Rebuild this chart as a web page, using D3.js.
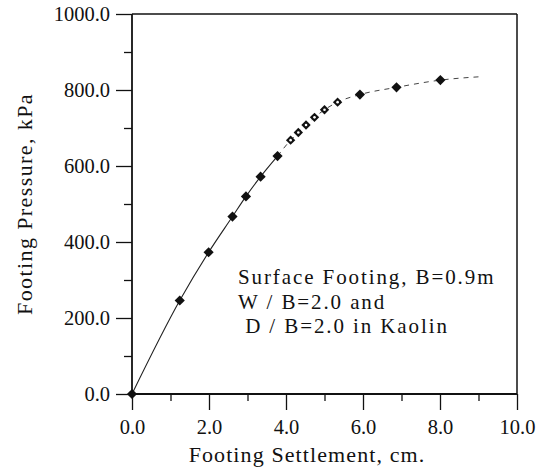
<!DOCTYPE html>
<html><head><meta charset="utf-8">
<script src="https://cdn.jsdelivr.net/npm/d3@7"></script>
<style>
body{margin:0;background:#fff}
#c text{font-family:"Liberation Serif","Times New Roman",serif}
</style></head>
<body><svg id="c" width="544" height="471" style="font-family:'Liberation Serif','Times New Roman',serif"></svg>
<script>
// ---- data ----
const solidSettlement = [0.0, 1.24, 1.99, 2.61, 2.96, 3.34, 3.78, 5.92, 6.87, 8.01];
const solidPressure   = [0, 246, 373, 467, 520, 572, 626, 788, 807, 826];
const openSettlement  = [4.12, 4.32, 4.52, 4.74, 5.00, 5.34];
const openPressure    = [668, 688, 708, 728, 748, 768];
const tailSettlement  = [9.05];
const tailPressure    = [835];
const xMajorTicks = [0, 2, 4, 6, 8, 10];
const xMinorTicks = [1, 3, 5, 7, 9];
const yMajorTicks = [0, 200, 400, 600, 800, 1000];
const yMinorTicks = [100, 300, 500, 700, 900];
const xTitle = "Footing Settlement, cm.";
const yTitle = "Footing Pressure, kPa";
const noteLines = ["Surface Footing, B=0.9m", "W / B=2.0 and", " D / B=2.0 in Kaolin"];

// ---- layout ----
const L = 132, R = 517, T = 14, B = 394;
const svg = d3.select("#c");
const x = d3.scaleLinear().domain([0, 10]).range([L, R]);
const y = d3.scaleLinear().domain([0, 1000]).range([B, T]);
const ink = "#111";
const FF = '"Liberation Serif"';

// axes
const fmt = d => d3.format(".1f")(d);
const gxM = svg.append("g").attr("transform", `translate(0,${B})`)
  .call(d3.axisBottom(x).tickValues(xMajorTicks).tickSize(16).tickSizeOuter(0).tickPadding(9).tickFormat(fmt));
const gxm = svg.append("g").attr("transform", `translate(0,${B})`)
  .call(d3.axisBottom(x).tickValues(xMinorTicks).tickSize(7).tickSizeOuter(0).tickFormat(""));
const gyM = svg.append("g").attr("transform", `translate(${L},0)`)
  .call(d3.axisLeft(y).tickValues(yMajorTicks).tickSize(16).tickSizeOuter(0).tickPadding(6).tickFormat(fmt));
const gym = svg.append("g").attr("transform", `translate(${L},0)`)
  .call(d3.axisLeft(y).tickValues(yMinorTicks).tickSize(8).tickSizeOuter(0).tickFormat(""));
[gxM, gxm, gyM, gym].forEach(g => {
  g.attr("font-family", null).attr("font-size", null);
  g.select(".domain").remove();
  g.selectAll("line").attr("stroke", ink).attr("stroke-width", 1.3);
  g.selectAll("text").style("font-family", FF).attr("font-size", 20.5).attr("fill", ink);
});

// frame
svg.append("line").attr("x1", L).attr("x2", L).attr("y1", T).attr("y2", B).attr("stroke", ink).attr("stroke-width", 1.8);
svg.append("line").attr("x1", L).attr("x2", R).attr("y1", B).attr("y2", B).attr("stroke", ink).attr("stroke-width", 1.8);
svg.append("line").attr("x1", L).attr("x2", R).attr("y1", T).attr("y2", T).attr("stroke", ink).attr("stroke-width", 1.3);
svg.append("line").attr("x1", R).attr("x2", R).attr("y1", T).attr("y2", B).attr("stroke", ink).attr("stroke-width", 1.5);

// curve
const solidPts = solidSettlement.map((s, i) => [s, solidPressure[i]]);
const openPts = openSettlement.map((s, i) => [s, openPressure[i]]);
const tailPts = tailSettlement.map((s, i) => [s, tailPressure[i]]);
const all = solidPts.concat(openPts, tailPts).sort((a, b) => a[0] - b[0]);
const line = d3.line().x(d => x(d[0])).y(d => y(d[1])).curve(d3.curveMonotoneX);
const splitAt = 3.78;
svg.append("path").datum(all.filter(d => d[0] <= splitAt))
  .attr("d", line).attr("fill", "none").attr("stroke", "#222").attr("stroke-width", 1.1);
svg.append("path").datum(all.filter(d => d[0] >= splitAt))
  .attr("d", line).attr("fill", "none").attr("stroke", "#444").attr("stroke-width", 1)
  .attr("stroke-dasharray", "5,5");

// markers
const diamond = d3.symbol().type(d3.symbolSquare).size(52)();
svg.append("g").selectAll("path").data(solidPts).join("path")
  .attr("d", diamond).attr("transform", d => `translate(${x(d[0])},${y(d[1])}) rotate(45)`)
  .attr("fill", ink);
const og = svg.append("g").selectAll("g").data(openPts).join("g")
  .attr("transform", d => `translate(${x(d[0])},${y(d[1])})`);
og.append("path").attr("d", d3.symbol().type(d3.symbolSquare).size(44)()).attr("transform", "rotate(45)").attr("fill", ink);
og.append("circle").attr("r", 1.3).attr("fill", "#fff");

// titles
svg.append("text").attr("x", 307).attr("y", 462).attr("text-anchor", "middle").style("font-family", FF)
  .attr("font-size", 22).attr("letter-spacing", 1.1).attr("fill", ink).text(xTitle);
svg.append("text").attr("transform", "translate(32,204) rotate(-90)").attr("text-anchor", "middle").style("font-family", FF)
  .attr("font-size", 22).attr("letter-spacing", 1.4).attr("fill", ink).text(yTitle);

// annotation
const note = svg.append("text").style("font-family", FF).attr("font-size", 21)
  .attr("letter-spacing", 1.9).attr("fill", ink);
noteLines.forEach((t, i) => {
  note.append("tspan").attr("x", 238).attr("y", 284 + i * 24.5).style("white-space", "pre").text(t);
});
</script></body></html>
